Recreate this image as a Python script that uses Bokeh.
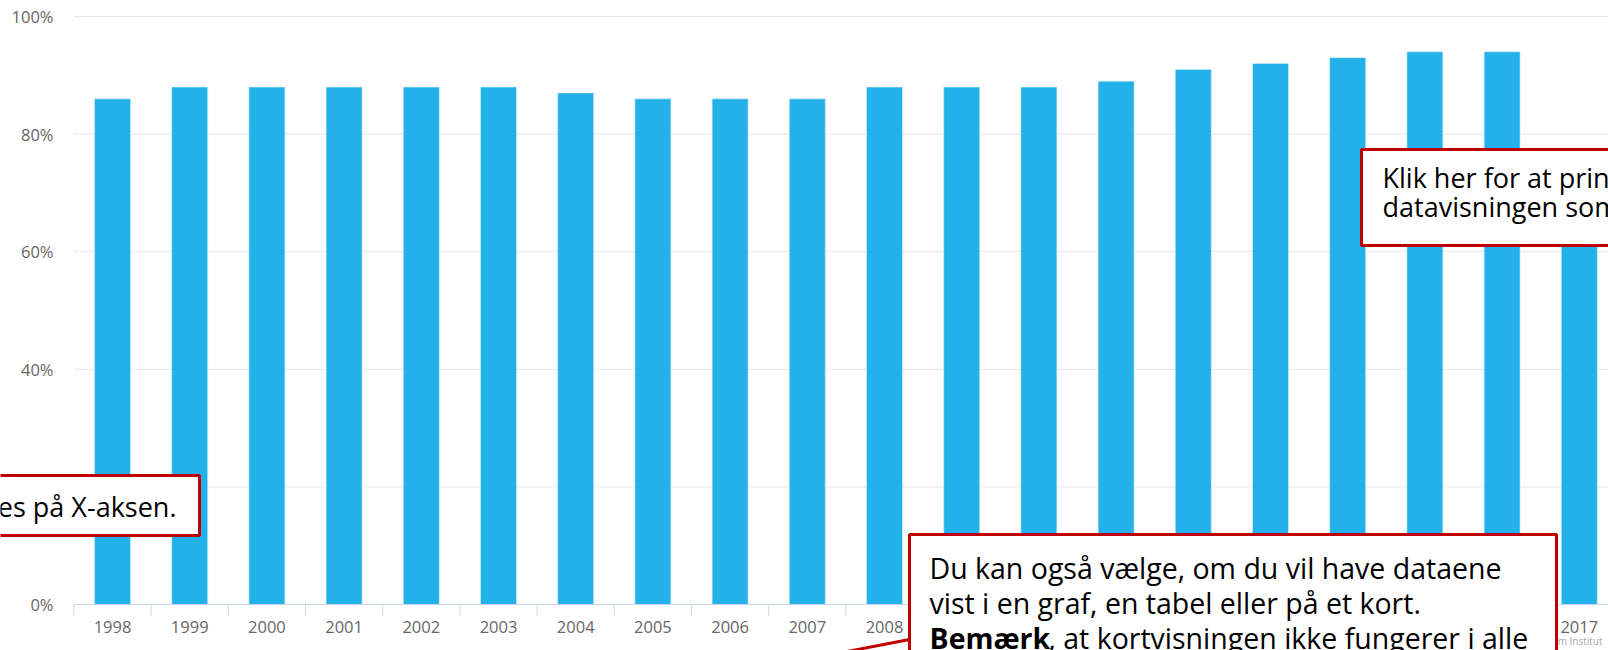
from bokeh.plotting import figure
from bokeh.models import Range1d, BoxAnnotation, Label, Arrow
from bokeh.core.properties import value
from bokeh.embed import file_html
from bokeh.resources import INLINE

# ---- data ----
years = ["1998", "1999", "2000", "2001", "2002", "2003", "2004", "2005", "2006", "2007",
         "2008", "2009", "2010", "2011", "2012", "2013", "2014", "2015", "2016", "2017"]
shares = [86, 88, 88, 88, 88, 88, 87, 86, 86, 86,
          88, 88, 88, 89, 91, 92, 93, 94, 94, 70]
y_ticks = [0, 20, 40, 60, 80, 100]
y_labels = ["0%", "20%", "40%", "60%", "80%", "100%"]

# ---- layout constants (picture pixels) ----
W, H = 1608, 650
SLOT = 77.2          # px per category
X0 = 73.4            # px of the left edge of the first category slot
Y0 = 604.0           # px of the 0% line
Y100 = 16.0          # px of the 100% line
PPU = (Y0 - Y100) / 100.0

def dx(px):
    return -0.5 + (px - X0) / SLOT

def dy(py):
    return (Y0 - py) / PPU

xs = list(range(len(years)))
x_right = dx(W)

p = figure(width=W, height=H, output_backend="svg", toolbar_location=None,
           x_range=Range1d(dx(0), x_right), y_range=Range1d(dy(H), dy(0)),
           x_axis_type=None, y_axis_type=None,
           min_border=0, min_border_left=0, min_border_right=0,
           min_border_top=0, min_border_bottom=0)
p.outline_line_color = None
p.background_fill_color = "white"
p.border_fill_color = "white"
p.grid.visible = False

# grid lines (drawn from the tick values through the y scale)
grid_vals = y_ticks[1:]
p.segment(x0=[-0.5] * len(grid_vals), x1=[x_right] * len(grid_vals),
          y0=grid_vals, y1=grid_vals, line_color="#e6e6e6", line_width=1)

# bars
p.vbar(x=xs, top=shares, width=0.466, color="#22b1e9", line_color="#d6effa", line_width=0.6)

# x axis line and category-boundary ticks
AXIS_C = "#ccd6eb"
p.segment(x0=[-0.5], x1=[x_right], y0=[0], y1=[0], line_color=AXIS_C, line_width=1)
bounds = [i - 0.5 for i in range(len(years) + 1)]
tick_len = 12 / PPU
p.segment(x0=bounds, x1=bounds, y0=[0] * len(bounds), y1=[-tick_len] * len(bounds),
          line_color=AXIS_C, line_width=1)

# tick labels
LBL_FONT = value("Open Sans")
p.text(x=xs, y=[dy(626)] * len(xs), text=years, text_font=LBL_FONT,
       text_font_size="16.5px", text_color="#666666", text_align="center",
       text_baseline="middle")
p.text(x=[dx(53)] * len(y_ticks), y=y_ticks, text=y_labels, text_font=LBL_FONT,
       text_font_size="16.5px", text_color="#666666", text_align="right",
       text_baseline="middle")

# source credit (partly hidden)
p.add_layout(Label(x=dx(1551), y=dy(647), text="um Institut", text_font="Open Sans",
                   text_font_size="10px", text_color="#aaaaaa"))

RED = "#c00000"
# ---- callout boxes ----
def box(l, r, t, b):
    p.add_layout(BoxAnnotation(left=dx(l), right=dx(r), top=dy(t), bottom=dy(b),
                               fill_color="white", fill_alpha=1, line_color=RED,
                               line_alpha=1, line_width=3))

box(-50, 199, 475, 535)
box(1361, 1700, 149, 245)
box(909, 1556, 534, 720)
p.add_layout(Arrow(x_start=dx(909), y_start=dy(639), x_end=dx(790), y_end=dy(662),
                   end=None, line_color=RED, line_width=3))

def lab(px, py, text, size, bold=False, align="left"):
    p.add_layout(Label(x=dx(px), y=dy(py), text=text, text_font="Open Sans",
                       text_font_size=size, text_color="black",
                       text_font_style="bold" if bold else "normal",
                       text_align=align, text_baseline="alphabetic"))

lab(176, 506, "es på X-aksen.", "27px", align="right")
lab(1382, 177, "Klik her for at printe", "27px")
lab(1382, 206, "datavisningen som", "27px")
lab(929, 567, "Du kan også vælge, om du vil have dataene", "28.5px")
lab(929, 602, "vist i en graf, en tabel eller på et kort.", "28.5px")
lab(929, 637, "Bemærk", "28.5px", bold=True)
lab(1048, 637, ", at kortvisningen ikke fungerer i alle", "28.5px")

open("out.html", "w").write(file_html(p, INLINE))
